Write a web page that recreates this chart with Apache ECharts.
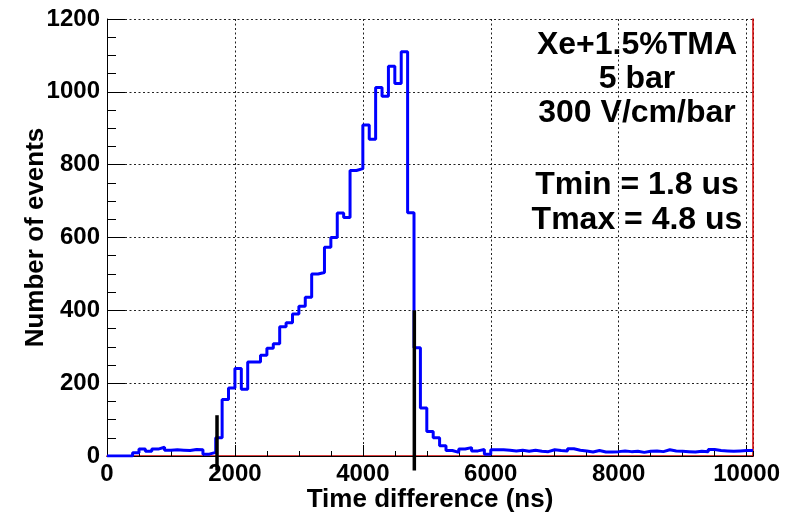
<!DOCTYPE html>
<html>
<head>
<meta charset="utf-8">
<script src="https://cdn.jsdelivr.net/npm/echarts@6/dist/echarts.min.js"></script>
<style>
  html, body { margin: 0; padding: 0; background: #ffffff; }
  #chart { width: 792px; height: 512px; }
</style>
</head>
<body>
<div id="chart"></div>
<script>
// histogram: 100 ns bins starting at 0
const binLow = 0;
const binWidth = 100;
const counts = [
  0, 0, 0, 0, 9, 19, 13, 19, 24, 16,
  17, 16, 15, 18, 17, 5, 10, 50, 155, 187,
  240, 183, 258, 258, 277, 296, 308, 355, 366, 390,
  411, 436, 500, 504, 573, 600, 667, 655, 784, 789,
  909, 870, 1012, 988, 1070, 1023, 1110, 668, 297, 132,
  67, 50, 28, 15, 10, 19, 23, 14, 18, 5,
  17, 17, 16, 14, 16, 13, 16, 13, 12, 17,
  15, 14, 20, 16, 14, 11, 15, 11, 11, 12,
  14, 12, 13, 10, 13, 14, 12, 17, 14, 13,
  12, 11, 13, 12, 18, 15, 14, 13, 14, 15,
  15
];

// window markers (x in ns, drawn from below the axis up to the top value)
const markerX = [1720, 4805];
const markerTop = [112, 400];
const markerBottom = -40;

const xTicks = [0, 2000, 4000, 6000, 8000, 10000];
const yTicks = [0, 200, 400, 600, 800, 1000, 1200];

const notes = ["Xe+1.5%TMA", "5 bar", "300 V/cm/bar", "Tmin = 1.8 us", "Tmax = 4.8 us"];
const noteY = [45, 79, 113, 185, 220];

const FONT = '"Liberation Sans", Arial, sans-serif';
const xMax = binLow + binWidth * counts.length;

const histPoints = counts.map((c, i) => [binLow + i * binWidth, c]);
histPoints.push([xMax, counts[counts.length - 1]]);

const gridLine = { show: true, lineStyle: { color: "#222", type: [2, 2.5], width: 1 } };

const chart = echarts.init(document.getElementById("chart"), null, { renderer: "canvas" });

const option = {
  animation: false,
  backgroundColor: "#ffffff",
  grid: { left: 107, right: 39, top: 19, bottom: 56, containLabel: false, outerBoundsMode: "none" },
  xAxis: [
    {
      type: "value",
      min: binLow,
      max: xMax,
      interval: 2000,
      name: "Time difference (ns)",
      nameLocation: "middle",
      nameGap: 31,
      nameMoveOverlap: false,
      nameTextStyle: { color: "#000", fontFamily: FONT, fontWeight: "bold", fontSize: 26 },
      axisLine: { show: true, onZero: false, lineStyle: { color: "#d00000", width: 1.5 } },
      axisTick: { show: true, inside: true, length: 11, lineStyle: { color: "#000" } },
      axisLabel: {
        color: "#000", fontFamily: FONT, fontWeight: "bold", fontSize: 24, margin: 6,
        showMaxLabel: false,
        formatter: (v) => (xTicks.includes(v) ? String(v) : "")
      },
      splitLine: gridLine
    },
    {
      // secondary ticks every 500 ns
      type: "value",
      position: "bottom",
      min: binLow,
      max: xMax,
      interval: 500,
      axisLine: { show: false },
      axisTick: { show: true, inside: true, length: 5, lineStyle: { color: "#000" } },
      axisLabel: { show: false },
      splitLine: { show: false }
    },
    {
      // top frame
      type: "value",
      position: "top",
      min: binLow,
      max: xMax,
      axisLine: { show: true, lineStyle: { color: "#000", width: 1 } },
      axisTick: { show: false },
      axisLabel: { show: false },
      splitLine: { show: false }
    }
  ],
  yAxis: [
    {
      type: "value",
      position: "left",
      min: 0,
      max: 1200,
      interval: 200,
      name: "Number of events",
      nameLocation: "middle",
      nameGap: 58,
      nameMoveOverlap: false,
      nameTextStyle: { color: "#000", fontFamily: FONT, fontWeight: "bold", fontSize: 26 },
      axisLine: { show: true, onZero: false, lineStyle: { color: "#000", width: 1 } },
      axisTick: { show: true, inside: true, length: 18, lineStyle: { color: "#000" } },
      minorTick: { show: true, splitNumber: 4, length: 9, lineStyle: { color: "#000" } },
      axisLabel: {
        color: "#000", fontFamily: FONT, fontWeight: "bold", fontSize: 24, margin: 7,
        formatter: (v) => (yTicks.includes(v) ? String(v) : "")
      },
      splitLine: gridLine
    },
    {
      // right frame
      type: "value",
      position: "right",
      offset: 0,
      min: 0,
      max: 1200,
      axisLine: { show: true, onZero: false, lineStyle: { color: "#d00000", width: 1.5 } },
      axisTick: { show: false },
      axisLabel: { show: false },
      splitLine: { show: false }
    }
  ],
  graphic: notes.map((t, i) => ({
    type: "text",
    x: 637,
    y: noteY[i],
    z: 100,
    style: {
      text: t,
      fill: "#000",
      font: "bold 32px " + FONT,
      textAlign: "center",
      textVerticalAlign: "middle"
    }
  })),
  series: [
    {
      type: "line",
      step: "end",
      data: histPoints,
      symbol: "none",
      lineStyle: { color: "#0000ff", width: 3 },
      z: 3
    },
    ...markerX.map((x, i) => ({
      type: "line",
      data: [[x, markerBottom], [x, markerTop[i]]],
      symbol: "none",
      clip: false,
      lineStyle: { color: "#000", width: 3.5 },
      z: 4
    }))
  ]
};

chart.setOption(option);
</script>
</body>
</html>
